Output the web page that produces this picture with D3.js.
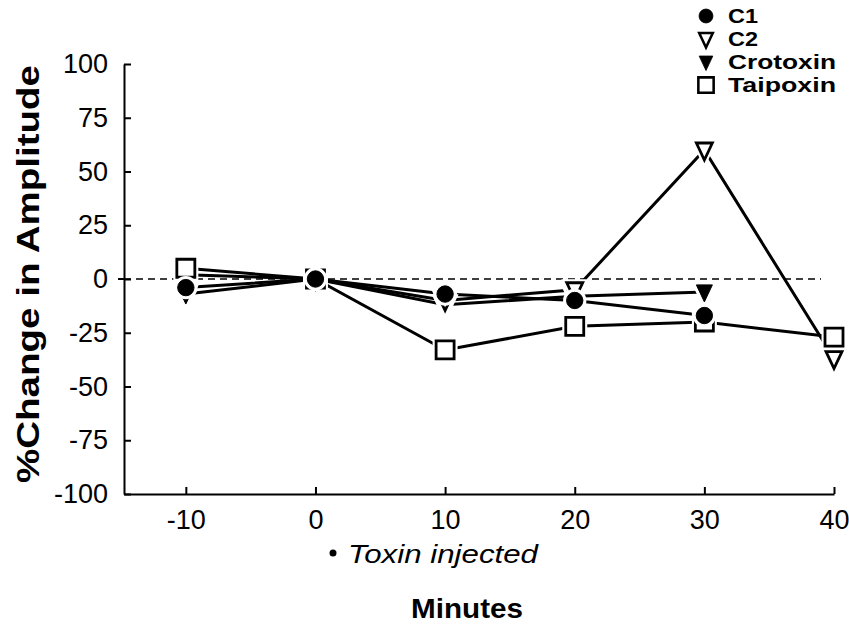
<!DOCTYPE html>
<html>
<head>
<meta charset="utf-8">
<script src="https://cdn.jsdelivr.net/npm/d3@7"></script>
<style>
  body { margin: 0; background: #fff; }
  text { font-family: "Liberation Sans", Arial, Helvetica, sans-serif; fill: #000; }
</style>
</head>
<body>
<div id="chart"></div>
<script>
// minutes relative to toxin injection
const minutes = [-10, 0, 10, 20, 30, 40];
const yTicks = [-100, -75, -50, -25, 0, 25, 50, 75, 100];

// % change in amplitude for each preparation (null = not recorded)
const c1 = [-4, 0, -7, -10, -17, null];
const c2 = [2, 0, -10, -5, 60, -37];
const crotoxin = [-7, 0, -12, -8, -6, null];
const taipoxin = [5, 0, -33, -22, -20, -27];

const seriesNames = ["C1", "C2", "Crotoxin", "Taipoxin"];
const seriesValues = [c1, c2, crotoxin, taipoxin];
const seriesShapes = ["circle", "triDownOpen", "triDown", "squareOpen"];
// order the markers are painted in (C1 ends up on top)
const drawOrder = [2, 1, 3, 0];

const W = 849, H = 626;
const svg = d3.select("#chart").append("svg")
    .attr("width", W)
    .attr("height", H);

// scales
const x = d3.scaleLinear().domain([-14.77, 40]).range([124, 834]);
const y = d3.scaleLinear().domain([-100, 100]).range([494, 64]);

// marker path builder
function markerPath(shape) {
    if (shape === "circle") {
        return d3.symbol().type(d3.symbolCircle).size(210)();
    }
    if (shape === "squareOpen") {
        const h = 9;
        return `M${-h},${-h}H${h}V${h}H${-h}Z`;
    }
    // downward triangle
    const w = 8, t = 7, b = 10;
    return `M${-w},${-t}L${w},${-t}L0,${b}Z`;
}
function isOpen(shape) { return shape.endsWith("Open"); }

// axes
const yAxis = d3.axisLeft(y).tickValues(yTicks)
    .tickFormat(d => String(d))
    .tickSizeInner(-7).tickSizeOuter(0).tickPadding(16);
const gy = svg.append("g").attr("transform", `translate(${x.range()[0]},0)`).call(yAxis);
gy.select(".domain").attr("stroke", "#000").attr("stroke-width", 2);
gy.selectAll(".tick line").attr("stroke", "#000").attr("stroke-width", 2);
gy.selectAll(".tick text").attr("font-size", 27);
// zero tick pokes out slightly to the left
svg.append("line")
    .attr("x1", x.range()[0] - 6).attr("x2", x.range()[0])
    .attr("y1", y(0)).attr("y2", y(0))
    .attr("stroke", "#000").attr("stroke-width", 2);

const xAxis = d3.axisBottom(x).tickValues(minutes)
    .tickFormat(d => String(d))
    .tickSizeInner(-7).tickSizeOuter(0).tickPadding(16);
const gx = svg.append("g").attr("transform", `translate(0,${y.range()[0]})`).call(xAxis);
gx.select(".domain").attr("stroke", "#000").attr("stroke-width", 2);
gx.selectAll(".tick line").attr("stroke", "#000").attr("stroke-width", 2);
gx.selectAll(".tick text").attr("font-size", 27);
gx.selectAll("text").style("font-family", "Liberation Sans, Arial, sans-serif");
gy.selectAll("text").style("font-family", "Liberation Sans, Arial, sans-serif");

// dashed zero reference
svg.append("line")
    .attr("x1", x.range()[0]).attr("x2", x(39))
    .attr("y1", y(0)).attr("y2", y(0))
    .attr("stroke", "#000").attr("stroke-width", 1.6)
    .attr("stroke-dasharray", "7,5");

// series lines
const line = d3.line()
    .defined(d => d.v !== null)
    .x(d => x(d.m))
    .y(d => y(d.v));

seriesValues.forEach((vals, i) => {
    const pts = minutes.map((m, j) => ({ m: m, v: vals[j] }));
    svg.append("path")
        .datum(pts)
        .attr("d", line)
        .attr("fill", "none")
        .attr("stroke", "#000")
        .attr("stroke-width", 3);
});

// markers with a white halo so lines stop short of them
drawOrder.forEach(i => {
    const vals = seriesValues[i];
    const shape = seriesShapes[i];
    const pts = minutes.map((m, j) => ({ m: m, v: vals[j] })).filter(d => d.v !== null);
    const g = svg.append("g");
    g.selectAll("path.halo")
        .data(pts).enter().append("path")
        .attr("class", "halo")
        .attr("d", markerPath(shape))
        .attr("transform", d => `translate(${x(d.m)},${y(d.v)})`)
        .attr("fill", "#fff")
        .attr("stroke", "#fff")
        .attr("stroke-width", 7);
    g.selectAll("path.mark")
        .data(pts).enter().append("path")
        .attr("class", "mark")
        .attr("d", markerPath(shape))
        .attr("transform", d => `translate(${x(d.m)},${y(d.v)})`)
        .attr("fill", isOpen(shape) ? "#fff" : "#000")
        .attr("stroke", "#000")
        .attr("stroke-width", isOpen(shape) ? 2.8 : 1);
});

// legend
const legendY = [16, 39, 62, 85];
const legendWidths = [30, 30, 108, 108];
const legend = svg.append("g");
seriesNames.forEach((name, i) => {
    const shape = seriesShapes[i];
    legend.append("path")
        .attr("d", markerPath(shape))
        .attr("transform", `translate(706,${legendY[i]}) scale(0.85)`)
        .attr("fill", isOpen(shape) ? "#fff" : "#000")
        .attr("stroke", "#000")
        .attr("stroke-width", isOpen(shape) ? 3 : 1);
    legend.append("text")
        .attr("x", 728)
        .attr("y", legendY[i])
        .attr("dy", "0.36em")
        .attr("font-size", 20)
        .attr("font-weight", "bold")
        .attr("textLength", legendWidths[i])
        .attr("lengthAdjust", "spacingAndGlyphs")
        .text(name);
});

// axis titles and note
svg.append("text")
    .attr("text-anchor", "middle")
    .attr("transform", `translate(39,${y(0) - 5}) rotate(-90)`)
    .attr("font-size", 31)
    .attr("font-weight", "bold")
    .attr("textLength", 418)
    .attr("lengthAdjust", "spacingAndGlyphs")
    .text("%Change in Amplitude");

svg.append("text")
    .attr("x", 467)
    .attr("y", 618)
    .attr("text-anchor", "middle")
    .attr("font-size", 27)
    .attr("font-weight", "bold")
    .attr("textLength", 112)
    .attr("lengthAdjust", "spacingAndGlyphs")
    .text("Minutes");

svg.append("circle")
    .attr("cx", 333).attr("cy", 553).attr("r", 3.5).attr("fill", "#000");
svg.append("text")
    .attr("x", 348)
    .attr("y", 563)
    .attr("font-size", 26)
    .attr("font-style", "italic")
    .attr("textLength", 190)
    .attr("lengthAdjust", "spacingAndGlyphs")
    .text("Toxin  injected");
</script>
</body>
</html>
